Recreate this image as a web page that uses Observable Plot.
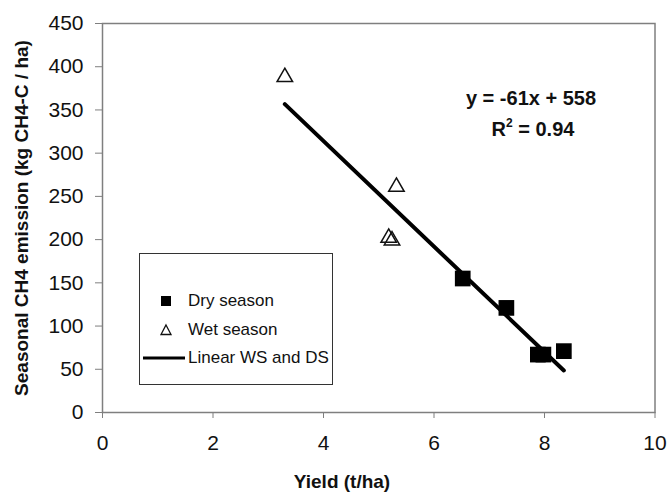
<!DOCTYPE html>
<html>
<head>
<meta charset="utf-8">
<script src="https://cdn.jsdelivr.net/npm/d3@7"></script>
<script src="https://cdn.jsdelivr.net/npm/@observablehq/plot@0.6"></script>
<style>
  html, body { margin: 0; padding: 0; background: #fff; }
  #wrap { position: relative; width: 667px; height: 492px; font-family: "Liberation Sans", Arial, sans-serif; color: #111; }
  #wrap svg { position: absolute; left: 0; top: 0; }
  .abs { position: absolute; }
  .axlabel { font-weight: bold; font-size: 19px; white-space: nowrap; }
  .eq { font-weight: bold; font-size: 20px; white-space: nowrap; text-align: center; width: 220px; }
  #legend { left: 139px; top: 253px; width: 194px; height: 132px; border: 1px solid #333; box-sizing: border-box; background: #fff; }
  .lrow { position: absolute; left: 0; height: 20px; font-size: 17px; line-height: 20px; white-space: nowrap; }
  .lrow svg { position: absolute; left: 0; top: 0; }
  .lrow span { position: absolute; left: 48px; top: 0; }
</style>
</head>
<body>
<div id="wrap"></div>
<script>
// Data
const dryYield = [6.52, 7.31, 7.88, 7.98, 8.35];
const dryCH4   = [155, 121, 67, 67, 71];
const wetYield = [3.30, 5.32, 5.18, 5.24];
const wetCH4   = [388, 261, 202, 199];
const fitSlope = -61;
const fitIntercept = 558;
const fitR2 = 0.94;
const xTicks = [0, 2, 4, 6, 8, 10];
const yTicks = [0, 50, 100, 150, 200, 250, 300, 350, 400, 450];
const seriesNames = ["Dry season", "Wet season", "Linear WS and DS"];

const dry = dryYield.map((x, i) => ({x, y: dryCH4[i]}));
const wet = wetYield.map((x, i) => ({x, y: wetCH4[i]}));
const allX = dryYield.concat(wetYield);
const fitLine = [d3.min(allX), d3.max(allX)].map(x => ({x, y: fitSlope * x + fitIntercept}));

const chart = Plot.plot({
  width: 667,
  height: 492,
  marginLeft: 102,
  marginRight: 12.5,
  marginTop: 23,
  marginBottom: 80,
  style: {fontFamily: "'Liberation Sans', Arial, sans-serif", fontSize: "21px", color: "#111", background: "transparent"},
  x: {domain: [0, 10], ticks: xTicks, label: null},
  y: {domain: [0, 450], ticks: yTicks, label: null},
  marks: [
    Plot.axisX({ticks: xTicks, tickSize: 6, tickPadding: 17, stroke: "#7f7f7f", label: null}),
    Plot.axisY({ticks: yTicks, tickSize: 7, tickPadding: 12, stroke: "#7f7f7f", label: null}),
    Plot.frame({stroke: "#7f7f7f", strokeWidth: 1.5}),
    Plot.line(fitLine, {x: "x", y: "y", stroke: "black", strokeWidth: 4, strokeLinecap: "round"}),
    Plot.dot(wet, {x: "x", y: "y", symbol: "triangle", r: 5.75, stroke: "#111", strokeWidth: 1.5, fill: "none"}),
    Plot.dot(dry, {x: "x", y: "y", symbol: "square", r: 8.86, fill: "black", stroke: "none"})
  ]
});

const wrap = document.getElementById("wrap");
wrap.appendChild(chart);

function addDiv(cls, html, css) {
  const d = document.createElement("div");
  d.className = cls;
  d.innerHTML = html;
  Object.assign(d.style, css);
  wrap.appendChild(d);
  return d;
}

// Axis titles
addDiv("abs axlabel", "Yield (t/ha)", {left: "342px", top: "482px", transform: "translate(-50%,-50%)"});
addDiv("abs axlabel", "Seasonal CH4 emission (kg CH4-C / ha)", {left: "22px", top: "218px", transform: "translate(-50%,-50%) rotate(-90deg)"});

// Regression annotation
addDiv("abs eq", `y = ${fitSlope}x + ${fitIntercept}`, {left: "531px", top: "98px", transform: "translate(-50%,-50%)"});
addDiv("abs eq", `R<sup style="font-size:12px;vertical-align:9px">2</sup> = ${fitR2.toFixed(2)}`, {left: "533px", top: "128px", transform: "translate(-50%,-50%)"});

// Legend
const legend = addDiv("abs", "", {});
legend.id = "legend";
const rowTops = [37, 66, 94];
const markers = [
  `<svg width="48" height="20"><rect x="21" y="5" width="10" height="10" fill="black"/></svg>`,
  `<svg width="48" height="20"><path d="M26,5 L31,14.5 L21,14.5 Z" fill="none" stroke="#111" stroke-width="1.3"/></svg>`,
  `<svg width="48" height="20"><line x1="3" y1="10" x2="45" y2="10" stroke="black" stroke-width="3"/></svg>`
];
seriesNames.forEach((name, i) => {
  const r = document.createElement("div");
  r.className = "lrow";
  r.style.top = rowTops[i] + "px";
  r.innerHTML = markers[i] + `<span>${name}</span>`;
  legend.appendChild(r);
});
</script>
</body>
</html>
